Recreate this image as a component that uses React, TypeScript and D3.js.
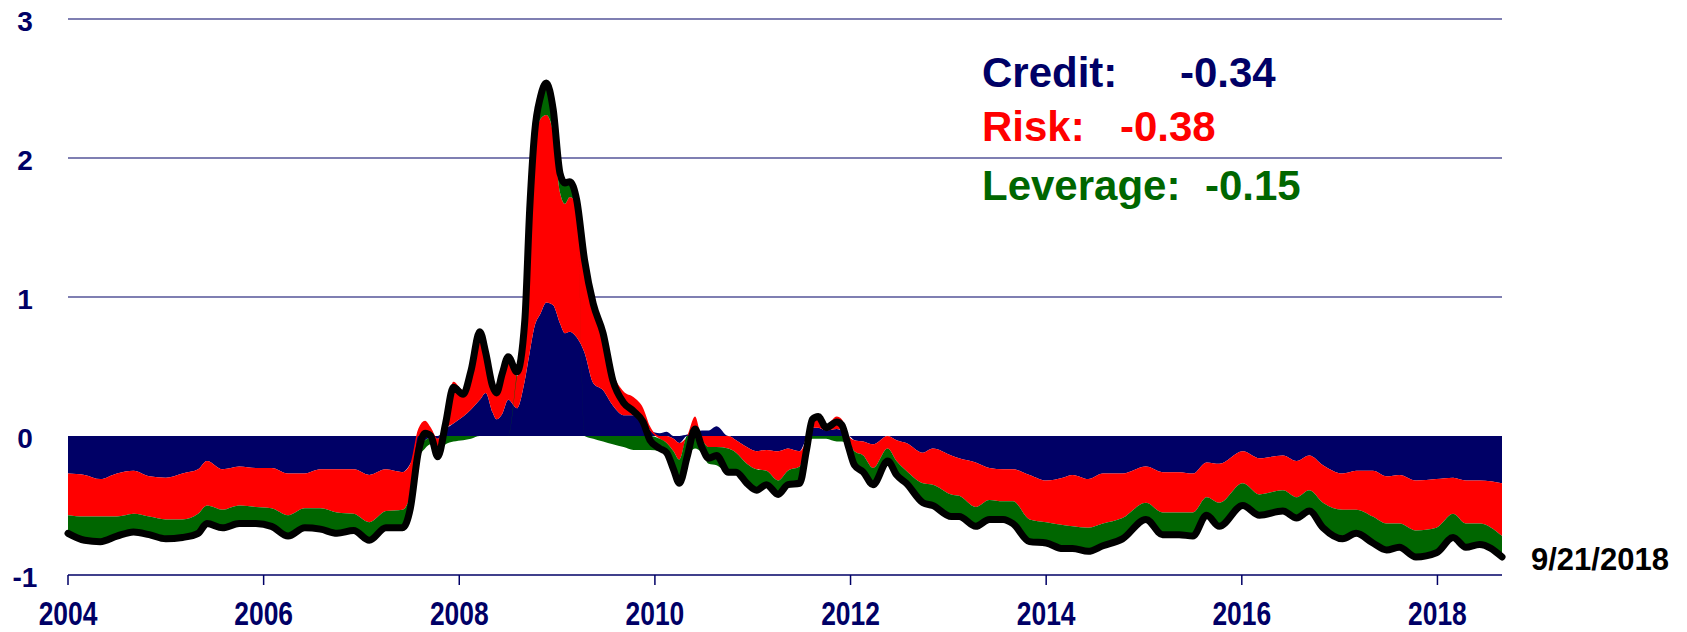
import React from 'react';
import * as d3 from 'd3';

// decimal-year dates of the readings
const dates = [
  2004.00, 2004.17, 2004.33, 2004.50, 2004.67, 2004.83, 2005.00, 2005.17, 2005.33, 2005.42,
  2005.58, 2005.75, 2005.92, 2006.08, 2006.25, 2006.42, 2006.58, 2006.75, 2006.92, 2007.08,
  2007.25, 2007.42, 2007.50, 2007.58, 2007.65, 2007.71, 2007.78, 2007.86, 2007.94, 2008.04,
  2008.12, 2008.21, 2008.27, 2008.34, 2008.38, 2008.44, 2008.50, 2008.59, 2008.67, 2008.72,
  2008.77, 2008.83, 2008.89, 2008.96, 2009.03, 2009.08, 2009.13, 2009.20, 2009.28, 2009.37,
  2009.47, 2009.57, 2009.68, 2009.78, 2009.88, 2009.95, 2010.05, 2010.12, 2010.19, 2010.25,
  2010.33, 2010.41, 2010.48, 2010.55, 2010.63, 2010.75, 2010.83, 2010.94, 2011.04, 2011.14,
  2011.26, 2011.36, 2011.48, 2011.55, 2011.61, 2011.67, 2011.75, 2011.86, 2011.91, 2011.98,
  2012.04, 2012.13, 2012.23, 2012.38, 2012.47, 2012.57, 2012.74, 2012.84, 2013.03, 2013.11,
  2013.28, 2013.42, 2013.56, 2013.66, 2013.83, 2014.00, 2014.17, 2014.27, 2014.43, 2014.58,
  2014.78, 2015.02, 2015.19, 2015.36, 2015.50, 2015.64, 2015.77, 2016.01, 2016.18, 2016.42,
  2016.56, 2016.69, 2016.83, 2017.03, 2017.17, 2017.34, 2017.48, 2017.61, 2017.78, 2017.99,
  2018.16, 2018.29, 2018.43, 2018.66,
];

const credit = [
  -0.27, -0.28, -0.31, -0.27, -0.25, -0.29, -0.30, -0.27, -0.24, -0.18,
  -0.24, -0.22, -0.23, -0.23, -0.27, -0.27, -0.24, -0.24, -0.24, -0.28,
  -0.24, -0.26, -0.20, -0.07, -0.03, -0.01, -0.02, 0.05, 0.09, 0.14,
  0.19, 0.26, 0.31, 0.17, 0.12, 0.16, 0.26, 0.20, 0.40, 0.60,
  0.79, 0.88, 0.96, 0.94, 0.81, 0.74, 0.75, 0.71, 0.60, 0.38,
  0.33, 0.22, 0.15, 0.15, 0.12, 0.04, 0.02, 0.03, -0.02, -0.05,
  0.01, 0.02, 0.04, 0.04, 0.07, 0.00, -0.03, -0.08, -0.11, -0.10,
  -0.11, -0.09, -0.11, -0.02, 0.06, 0.06, 0.04, 0.05, 0.04, 0.00,
  -0.03, -0.04, -0.06, 0.00, -0.03, -0.05, -0.12, -0.09, -0.14, -0.16,
  -0.19, -0.23, -0.24, -0.24, -0.28, -0.32, -0.30, -0.28, -0.31, -0.27,
  -0.27, -0.22, -0.26, -0.26, -0.27, -0.19, -0.20, -0.11, -0.16, -0.14,
  -0.18, -0.14, -0.21, -0.27, -0.25, -0.25, -0.29, -0.28, -0.32, -0.31,
  -0.30, -0.32, -0.32, -0.34,
];

const risk = [
  -0.30, -0.30, -0.27, -0.31, -0.31, -0.29, -0.30, -0.33, -0.32, -0.32,
  -0.29, -0.28, -0.28, -0.29, -0.30, -0.25, -0.28, -0.31, -0.32, -0.34,
  -0.30, -0.27, -0.22, 0.05, 0.11, 0.06, -0.08, 0.10, 0.30, 0.19,
  0.30, 0.49, 0.29, 0.19, 0.19, 0.29, 0.31, 0.23, 0.40, 0.95,
  1.29, 1.40, 1.35, 1.24, 0.94, 0.93, 0.97, 0.96, 0.67, 0.59,
  0.45, 0.24, 0.17, 0.13, 0.08, 0.03, -0.02, -0.05, -0.09, -0.12,
  0.00, 0.12, -0.03, -0.08, -0.08, -0.09, -0.09, -0.12, -0.13, -0.15,
  -0.21, -0.16, -0.11, -0.04, 0.08, 0.10, 0.04, 0.09, 0.08, -0.03,
  -0.08, -0.10, -0.17, -0.09, -0.15, -0.20, -0.22, -0.26, -0.28, -0.27,
  -0.32, -0.23, -0.23, -0.23, -0.32, -0.30, -0.34, -0.37, -0.35, -0.36,
  -0.32, -0.26, -0.29, -0.29, -0.28, -0.25, -0.28, -0.23, -0.26, -0.25,
  -0.26, -0.25, -0.27, -0.26, -0.28, -0.33, -0.34, -0.35, -0.36, -0.35,
  -0.26, -0.31, -0.31, -0.38,
];

const leverage = [
  -0.13, -0.17, -0.18, -0.14, -0.13, -0.13, -0.14, -0.13, -0.14, -0.13,
  -0.13, -0.13, -0.12, -0.13, -0.15, -0.14, -0.15, -0.15, -0.12, -0.13,
  -0.12, -0.13, -0.10, -0.10, -0.06, -0.05, -0.05, -0.06, -0.04, -0.03,
  -0.02, 0.00, 0.00, 0.00, 0.00, 0.00, 0.00, 0.03, 0.03, 0.08,
  0.10, 0.16, 0.23, 0.17, 0.14, 0.15, 0.11, 0.03, 0.00, -0.02,
  -0.04, -0.06, -0.08, -0.10, -0.10, -0.10, -0.09, -0.10, -0.13, -0.17,
  -0.16, -0.09, -0.09, -0.12, -0.13, -0.17, -0.14, -0.14, -0.15, -0.10,
  -0.10, -0.10, -0.12, -0.04, -0.02, -0.02, -0.02, -0.04, -0.04, -0.05,
  -0.10, -0.12, -0.12, -0.09, -0.10, -0.09, -0.14, -0.15, -0.16, -0.15,
  -0.14, -0.14, -0.13, -0.16, -0.16, -0.15, -0.17, -0.16, -0.17, -0.16,
  -0.15, -0.12, -0.16, -0.16, -0.17, -0.13, -0.17, -0.16, -0.15, -0.15,
  -0.15, -0.15, -0.18, -0.21, -0.17, -0.19, -0.19, -0.17, -0.19, -0.18,
  -0.17, -0.17, -0.15, -0.15,
];

const seriesKeys = ['credit', 'risk', 'leverage'];
const seriesColors = ['#000066', '#ff0000', '#006600'];
const legendLabels = ['Credit:', 'Risk:', 'Leverage:'];
const legendValues = ['-0.34', '-0.38', '-0.15'];
const yTicks = [-1, 0, 1, 2, 3];
const xTicks = [2004, 2006, 2008, 2010, 2012, 2014, 2016, 2018];
const lastDateLabel = '9/21/2018';

export default function App() {
  const W = 1687;
  const H = 632;
  const x = d3.scaleLinear().domain([2004, 2018.66]).range([68, 1502]);
  const y = d3.scaleLinear().domain([-1, 3]).range([575, 19]);

  const rows = dates.map((t, i) => ({ t, credit: credit[i], risk: risk[i], leverage: leverage[i] }));
  const stacked = d3.stack<any>().keys(seriesKeys).offset(d3.stackOffsetDiverging)(rows);
  const area = d3
    .area<any>()
    .x((d) => x(d.data.t))
    .y0((d) => y(d[0]))
    .y1((d) => y(d[1]))
    .curve(d3.curveMonotoneX);
  const totals = rows.map((r) => ({ t: r.t, v: r.credit + r.risk + r.leverage }));
  const line = d3
    .line<any>()
    .x((d) => x(d.t))
    .y((d) => y(d.v))
    .curve(d3.curveMonotoneX);

  const font = 'Liberation Sans, Arial, sans-serif';
  const legendX = 982;
  const legendBase = [87, 141, 200];
  const valueX = [1180, 1120, 1205];

  return (
    <svg
      width={W}
      height={H}
      style={{ position: 'absolute', left: 0, top: 0, background: '#fff' }}
      fontFamily={font}
    >
      {/* grid lines */}
      {yTicks
        .filter((v) => v > 0)
        .map((v) => (
          <line key={v} x1={68} x2={1502} y1={y(v)} y2={y(v)} stroke="#000066" strokeWidth={1.2} />
        ))}
      {/* stacked areas */}
      {stacked.map((s, i) => (
        <path key={seriesKeys[i]} d={area(s) || ''} fill={seriesColors[i]} />
      ))}
      {/* total */}
      <path d={line(totals) || ''} fill="none" stroke="#000" strokeWidth={7} strokeLinejoin="round" strokeLinecap="round" />
      {/* x axis */}
      <line x1={68} x2={1502} y1={y(-1)} y2={y(-1)} stroke="#000066" strokeWidth={1.5} />
      {xTicks.map((t) => (
        <g key={t}>
          <line x1={x(t)} x2={x(t)} y1={y(-1)} y2={y(-1) + 10} stroke="#000066" strokeWidth={1.5} />
          <text
            transform={`translate(${x(t)},625) scale(0.8,1)`}
            textAnchor="middle"
            fontSize={33}
            fontWeight="bold"
            fill="#000066"
          >
            {t}
          </text>
        </g>
      ))}
      {/* y labels */}
      {yTicks.map((v) => (
        <text key={v} x={25} y={y(v) + 12} textAnchor="middle" fontSize={28} fontWeight="bold" fill="#000066">
          {v}
        </text>
      ))}
      {/* legend */}
      {legendLabels.map((l, i) => (
        <g key={l}>
          <text x={legendX} y={legendBase[i]} fontSize={42} fontWeight="bold" fill={seriesColors[i]}>
            {l}
          </text>
          <text x={valueX[i]} y={legendBase[i]} fontSize={42} fontWeight="bold" fill={seriesColors[i]}>
            {legendValues[i]}
          </text>
        </g>
      ))}
      <text x={1531} y={570} fontSize={31} fontWeight="bold" fill="#000">
        {lastDateLabel}
      </text>
    </svg>
  );
}
